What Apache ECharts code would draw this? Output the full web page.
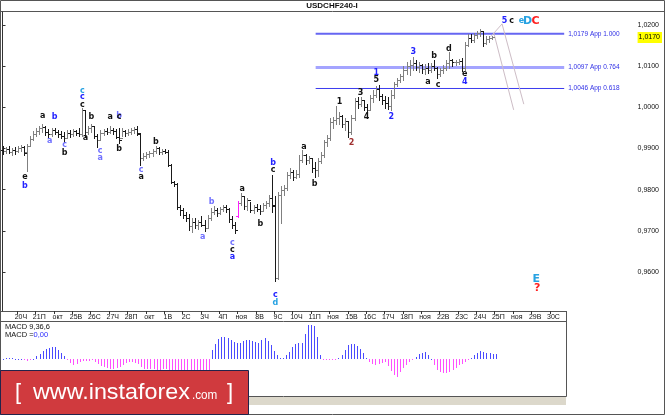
<!DOCTYPE html>
<html><head><meta charset="utf-8">
<script src="https://cdn.jsdelivr.net/npm/echarts@6/dist/echarts.min.js"></script>
<style>html,body{margin:0;padding:0;background:#fff}#c{width:665px;height:415px}</style>
</head><body><div id="c"></div>
<script>
const symbolName = 'USDCHF240-I';
const dayLabels = ['20Ч','21П','окт','25В','26С','27Ч','28П','окт','1В','2С','3Ч','4П','ноя','8В','9С','10Ч','11П','ноя','15В','16С','17Ч','18П','ноя','22В','23С','24Ч','25П','ноя','29В','30С'];
const barsPerDay = 6;
const priceTicks = [0.96, 0.97, 0.98, 0.99, 1.00, 1.01, 1.02];
const lastPrice = 1.0170;

const open = [
0.9896,0.9894,0.9899,0.9891,0.9896,0.9894,0.9901,0.9904,0.9891,0.9906,
0.9923,0.9935,0.9942,0.9950,0.9952,0.9940,0.9935,0.9945,0.9940,0.9935,
0.9930,0.9925,0.9938,0.9935,0.9942,0.9938,0.9935,0.9993,0.9940,0.9950,
0.9955,0.9930,0.9921,0.9938,0.9942,0.9940,0.9945,0.9942,0.9928,0.9925,
0.9942,0.9938,0.9940,0.9945,0.9947,0.9935,0.9877,0.9882,0.9887,0.9889,
0.9894,0.9901,0.9891,0.9894,0.9891,0.9860,0.9818,0.9814,0.9758,0.9750,
0.9738,0.9731,0.9712,0.9721,0.9714,0.9721,0.9714,0.9707,0.9731,0.9746,
0.9750,0.9743,0.9753,0.9758,0.9753,0.9729,0.9714,0.9736,0.9767,0.9784,
0.9760,0.9775,0.9750,0.9758,0.9753,0.9748,0.9763,0.9767,0.9780,0.9763,
0.9585,0.9787,0.9799,0.9804,0.9836,0.9843,0.9831,0.9838,0.9872,0.9884,
0.9872,0.9877,0.9853,0.9848,0.9870,0.9884,0.9916,0.9925,0.9964,0.9969,
0.9974,0.9979,0.9959,0.9967,0.9940,0.9974,1.0015,1.0008,1.0018,1.0001,
0.9993,1.0023,1.0030,1.0044,1.0027,1.0018,1.0010,1.0003,1.0030,1.0057,
1.0066,1.0076,1.0091,1.0100,1.0103,1.0108,1.0098,1.0103,1.0093,1.0096,
1.0091,1.0100,1.0096,1.0081,1.0091,1.0096,1.0108,1.0115,1.0110,1.0110,
1.0113,1.0096,1.0151,1.0168,1.0164,1.0176,1.0181,1.0185,1.0156,1.0166,
1.0168];
const high = [
0.9906,0.9904,0.9906,0.9901,0.9904,0.9906,0.9908,0.9906,0.9911,0.9930,
0.9942,0.9950,0.9955,0.9959,0.9955,0.9947,0.9950,0.9950,0.9945,0.9942,
0.9940,0.9945,0.9945,0.9947,0.9945,0.9950,0.9998,0.9993,0.9955,0.9959,
0.9955,0.9935,0.9945,0.9947,0.9950,0.9955,0.9950,0.9947,0.9950,0.9950,
0.9945,0.9947,0.9950,0.9952,0.9955,0.9938,0.9889,0.9891,0.9894,0.9899,
0.9906,0.9904,0.9899,0.9899,0.9896,0.9862,0.9821,0.9816,0.9763,0.9755,
0.9746,0.9741,0.9731,0.9731,0.9726,0.9736,0.9726,0.9738,0.9755,0.9760,
0.9755,0.9758,0.9763,0.9763,0.9755,0.9736,0.9721,0.9772,0.9792,0.9784,
0.9780,0.9770,0.9763,0.9765,0.9763,0.9767,0.9772,0.9787,0.9836,0.9784,
0.9794,0.9809,0.9811,0.9843,0.9853,0.9848,0.9848,0.9884,0.9896,0.9887,
0.9882,0.9877,0.9867,0.9877,0.9891,0.9921,0.9933,0.9974,0.9976,1.0003,
0.9989,0.9981,0.9974,0.9964,0.9981,1.0023,1.0025,1.0025,1.0015,1.0008,
1.0030,1.0042,1.0052,1.0054,1.0032,1.0027,1.0025,1.0042,1.0061,1.0071,
1.0081,1.0100,1.0110,1.0115,1.0122,1.0115,1.0110,1.0105,1.0105,1.0108,
1.0108,1.0115,1.0098,1.0096,1.0103,1.0115,1.0134,1.0117,1.0115,1.0117,
1.0120,1.0159,1.0178,1.0178,1.0181,1.0185,1.0190,1.0183,1.0173,1.0173,
1.0173];
const low = [
0.9887,0.9889,0.9889,0.9884,0.9887,0.9891,0.9894,0.9884,0.9845,0.9906,
0.9921,0.9930,0.9935,0.9940,0.9933,0.9925,0.9930,0.9935,0.9928,0.9925,
0.9916,0.9925,0.9928,0.9930,0.9933,0.9930,0.9930,0.9928,0.9935,0.9940,
0.9925,0.9904,0.9921,0.9933,0.9935,0.9938,0.9935,0.9925,0.9913,0.9930,
0.9930,0.9933,0.9935,0.9938,0.9933,0.9860,0.9872,0.9877,0.9879,0.9882,
0.9889,0.9887,0.9887,0.9889,0.9857,0.9816,0.9809,0.9753,0.9738,0.9731,
0.9724,0.9702,0.9697,0.9707,0.9704,0.9712,0.9699,0.9707,0.9726,0.9741,
0.9736,0.9741,0.9748,0.9746,0.9721,0.9707,0.9695,0.9733,0.9763,0.9753,
0.9750,0.9746,0.9743,0.9748,0.9741,0.9750,0.9755,0.9760,0.9746,0.9578,
0.9583,0.9719,0.9787,0.9799,0.9828,0.9823,0.9828,0.9831,0.9867,0.9862,
0.9865,0.9843,0.9831,0.9833,0.9865,0.9879,0.9906,0.9921,0.9950,0.9959,
0.9959,0.9952,0.9945,0.9928,0.9935,0.9969,0.9998,1.0003,0.9993,0.9984,
0.9993,1.0013,1.0025,1.0018,1.0008,0.9998,0.9996,0.9993,1.0023,1.0052,
1.0061,1.0066,1.0081,1.0079,1.0091,1.0091,1.0086,1.0083,1.0081,1.0083,
1.0086,1.0091,1.0071,1.0076,1.0083,1.0091,1.0096,1.0100,1.0103,1.0105,
1.0088,1.0091,1.0149,1.0159,1.0159,1.0168,1.0173,1.0149,1.0154,1.0159,
1.0166];
const close = [
0.9894,0.9899,0.9891,0.9896,0.9894,0.9901,0.9904,0.9889,0.9906,0.9923,
0.9935,0.9942,0.9950,0.9952,0.9940,0.9935,0.9945,0.9940,0.9935,0.9930,
0.9925,0.9938,0.9935,0.9942,0.9938,0.9935,0.9993,0.9940,0.9950,0.9955,
0.9930,0.9921,0.9938,0.9942,0.9940,0.9945,0.9942,0.9928,0.9921,0.9942,
0.9938,0.9940,0.9945,0.9947,0.9938,0.9877,0.9882,0.9887,0.9889,0.9894,
0.9901,0.9891,0.9894,0.9891,0.9860,0.9818,0.9814,0.9758,0.9750,0.9738,
0.9731,0.9712,0.9721,0.9714,0.9721,0.9714,0.9707,0.9731,0.9746,0.9750,
0.9743,0.9753,0.9758,0.9753,0.9729,0.9714,0.9702,0.9767,0.9784,0.9760,
0.9775,0.9750,0.9758,0.9753,0.9748,0.9763,0.9767,0.9780,0.9760,0.9585,
0.9787,0.9799,0.9804,0.9836,0.9843,0.9831,0.9838,0.9872,0.9884,0.9872,
0.9877,0.9853,0.9848,0.9870,0.9884,0.9916,0.9925,0.9964,0.9969,0.9974,
0.9979,0.9959,0.9967,0.9940,0.9974,1.0015,1.0008,1.0018,1.0001,0.9993,
1.0023,1.0030,1.0044,1.0027,1.0018,1.0010,1.0003,1.0030,1.0057,1.0066,
1.0076,1.0091,1.0100,1.0103,1.0108,1.0098,1.0103,1.0093,1.0096,1.0091,
1.0100,1.0096,1.0081,1.0091,1.0096,1.0108,1.0115,1.0110,1.0110,1.0113,
1.0096,1.0151,1.0168,1.0164,1.0176,1.0181,1.0185,1.0156,1.0166,1.0168,
1.0170];
const markedBar = 77;

// MACD(9,36,6) histogram, in units of 0.0001
const macdHist = [
0.5,1,1.5,1,0.5,0.5,0.5,-1,-2,-1,
0.5,3,5,8,10.5,11.5,12,12,9,6,
3,-1,-4,-6,-5,-3,-1.5,-2,-1.5,-1,
-3,-5,-7,-8,-9,-10,-10,-9,-8,-6,
-4,-3,-3,-4,-5,-8,-10,-10,-10,-10,
-11,-11,-10,-10,-11,-11,-12,-14,-15,-15,
-15,-15,-14,-14,-13,-13,-12,-11,9,15,
20,22,22,21,19,17,16,16,18,19,
19,18,17,16,19,21,18,14,8,4,
1,1,4,7,12,15,16,16,25,34,
34,33,22,4,-0.5,-1,-1,-1,-0.5,1,
4,9,14,15,15,13,10,6,1,-3,
-5,-6,-5,-4,-3,-7,-12,-16,-18,-13,
-9,-6,-3,-1,2,5,6,7,4,0.5,
-6,-11,-13,-14,-14,-13,-11,-9,-6,-5,
-3,-1,1,4,6,8,7.5,6,6,5.5,
5.5];

const fibLevels = [1.0179, 1.0097, 1.0046];
const fibRatios = ['1.000', '0.764', '0.618'];
const fibFromBar = 102.3;
const fibToBar = 183.5;

const projLines = [
  [[159.5, 1.0172], [163.2, 1.0203]],
  [[160.5, 1.0181], [167.0, 0.9994]],
  [[163.2, 1.0203], [170.3, 1.0008]]
];

const waveText   = ['e','b','a','a','b','c','b','c','c','c','a','b','c','a','a','b','c','b','c','a','b','a','b','c','c','a','a','b','b','c','c','d','a','b','1','2','3','4','1','5','2','3','a','b','c','d','e','4','5','c','e','D','C','E','?'];
const waveBar    = [7.3,7.3,13.1,15.4,17.0,20.3,20.3,26.1,26.1,26.1,27.1,29.0,31.9,31.9,35.2,38.1,38.1,38.1,45.3,45.3,50.1,65.4,68.3,75.1,75.1,75.1,78.3,84.2,88.4,88.4,89.1,89.1,98.5,102.0,110.1,114.0,117.0,118.9,122.1,122.1,127.0,134.2,139.0,141.0,142.3,145.8,151.0,151.0,164.0,166.3,169.5,171.5,174.1,174.4,174.7];
const wavePrice  = [0.9831,0.9809,0.9979,0.9918,0.9976,0.9909,0.9889,1.0040,1.0025,1.0006,0.9926,0.9978,0.9894,0.9877,0.9976,0.9979,0.9976,0.9899,0.9848,0.9831,0.9916,0.9685,0.9770,0.9670,0.9653,0.9636,0.9802,0.9717,0.9865,0.9848,0.9544,0.9525,0.9904,0.9814,1.0013,0.9913,1.0035,0.9977,1.0083,1.0066,0.9978,1.0134,1.0062,1.0125,1.0054,1.0142,1.0081,1.0062,1.0210,1.0210,1.0210,1.0210,1.0210,0.9583,0.9561];
const waveDegree = ['k','b','k','l','b','l','k','c','b','k','k','k','l','l','k','l','k','k','l','k','k','l','l','l','k','b','k','k','b','k','b','c','k','k','k','m','k','k','b','k','b','b','k','k','k','k','k','b','b','k','c','c','r','c','r'];

const DEG_COLOR = {k:'#111111', b:'#2323ff', l:'#7070ff', c:'#27a2e2', r:'#ff1f1f', m:'#a03030'};
const UP = '#808080', DOWN = '#1a1a1a';

const chart = echarts.init(document.getElementById('c'), null, {renderer:'canvas'});
const tickIdx = dayLabels.map((_, k) => (k + 1) * barsPerDay);
const FONT = '"Liberation Sans", Arial, sans-serif';

function renderOHLC(params, api) {
  const i = api.value(0);
  const o = api.coord([i, api.value(1)]);
  const c = api.coord([i, api.value(2)]);
  const l = api.coord([i, api.value(3)]);
  const h = api.coord([i, api.value(4)]);
  const X = Math.round(o[0]);
  const x = X + 0.5;
  const col = i === markedBar ? '#ff20ff' : (api.value(2) >= api.value(1) ? UP : DOWN);
  const yo = Math.round(o[1]) + 0.5, yc = Math.round(c[1]) + 0.5;
  return {type:'group', children:[
    {type:'line', shape:{x1:x, y1:Math.round(h[1]), x2:x, y2:Math.round(l[1]) + 1}, style:{stroke:col, lineWidth:1}},
    {type:'line', shape:{x1:X - 2, y1:yo, x2:X + 1, y2:yo}, style:{stroke:col, lineWidth:1}},
    {type:'line', shape:{x1:X, y1:yc, x2:X + 3, y2:yc}, style:{stroke:col, lineWidth:1}}
  ]};
}
function renderMacd(params, api) {
  const i = api.value(0), v = api.value(1);
  const p0 = api.coord([i, 0]), p1 = api.coord([i, v]);
  const X = Math.round(p0[0]);
  const y0 = Math.round(p0[1]), y1 = Math.round(p1[1]);
  return {type:'rect', shape:{x:X, y:Math.min(y0, y1), width:1, height:Math.max(1, Math.abs(y1 - y0))},
    style:{fill: v >= 0 ? '#4a4aff' : '#ff50ff'}};
}
function renderWave(params, api) {
  const p = api.coord([api.value(0), api.value(1)]);
  const k = params.dataIndex;
  const big = /[A-Z?]/.test(waveText[k]);
  return {type:'text', x:p[0], y:p[1], style:{text:waveText[k], fill:DEG_COLOR[waveDegree[k]],
    font: big ? 'bold 11px "DejaVu Sans", sans-serif' : 'bold 8px "DejaVu Sans", sans-serif',
    align:'center', verticalAlign:'middle'}};
}

const fibStyles = [{w:2, c:'#6666f2'}, {w:3, c:'#a4a4ff'}, {w:1, c:'#3c3cee'}];
const fibSeries = fibLevels.map((lv, k) => ({
  type:'line', xAxisIndex:0, yAxisIndex:0, silent:true, symbol:'none', z:1,
  data:[[fibFromBar, lv], [fibToBar, lv]],
  lineStyle:{color:fibStyles[k].c, width:fibStyles[k].w},
  endLabel:{show:true, distance:4, color:'#2f2fe6', fontSize:6.5, fontFamily:FONT,
    formatter: () => lv.toFixed(4).replace('.', ',') + ' App ' + fibRatios[k]}
}));
const projSeries = projLines.map(seg => ({
  type:'line', xAxisIndex:0, yAxisIndex:0, silent:true, symbol:'none', z:1,
  data:seg, lineStyle:{color:'#cdbdc6', width:1}
}));

chart.setOption({
  animation:false,
  backgroundColor:'#ffffff',
  grid:[
    {left:1, right:26, top:12, bottom:104},
    {left:1, right:26, top:322, bottom:19}
  ],
  xAxis:[
    {type:'value', gridIndex:0, min:-0.5, max:206.5,
      axisLine:{show:false}, splitLine:{show:false},
      axisTick:{show:true, customValues:tickIdx.map(v => v - 1.2), length:3, lineStyle:{color:'#333'}},
      axisLabel:{customValues:tickIdx, formatter:v => dayLabels[Math.round(v / barsPerDay) - 1] || '',
        fontSize:7, color:'#111', margin:3, fontFamily:FONT}},
    {type:'value', gridIndex:1, min:-0.5, max:206.5, show:false}
  ],
  yAxis:[
    {type:'value', gridIndex:0, position:'right', min:0.9505, max:1.0232,
      axisLine:{show:true, lineStyle:{color:'#333'}},
      axisTick:{show:true, customValues:priceTicks, length:3, lineStyle:{color:'#333'}},
      splitLine:{show:false},
      axisLabel:{customValues:priceTicks.concat([lastPrice]), margin:3, fontSize:7, color:'#111', fontFamily:FONT,
        formatter:v => Math.abs(v - lastPrice) < 1e-7 ? '{hl|' + v.toFixed(4).replace('.', ',') + '}' : v.toFixed(4).replace('.', ','),
        rich:{hl:{backgroundColor:'#ffff00', color:'#000', fontSize:7, fontFamily:FONT, padding:[2,2,2,1]}}}},
    {type:'value', gridIndex:1, min:-37, max:37, show:false}
  ],
  series:[
    ...fibSeries,
    ...projSeries,
    {type:'custom', name:'ohlc', xAxisIndex:0, yAxisIndex:0, z:3, silent:true,
      data:open.map((o, i) => [i, o, close[i], low[i], high[i]]), renderItem:renderOHLC},
    {type:'custom', name:'macd', xAxisIndex:1, yAxisIndex:1, z:3, silent:true,
      data:macdHist.map((v, i) => [i, v]), renderItem:renderMacd},
    {type:'custom', name:'waves', xAxisIndex:0, yAxisIndex:0, z:4, silent:true,
      data:waveBar.map((b, i) => [b, wavePrice[i]]), renderItem:renderWave}
  ],
  graphic:[
    {type:'rect', z:0, shape:{x:0.5, y:0.5, width:664, height:414}, style:{fill:null, stroke:'#555', lineWidth:1}},
    {type:'line', shape:{x1:0, y1:11.5, x2:665, y2:11.5}, style:{stroke:'#555', lineWidth:1}},
    {type:'text', x:332, y:6, style:{text:symbolName, font:'bold 8px ' + FONT, fill:'#111', align:'center', verticalAlign:'middle'}},
    {type:'line', shape:{x1:0, y1:311.5, x2:566, y2:311.5}, style:{stroke:'#555', lineWidth:1}},
    {type:'rect', shape:{x:0.5, y:321.5, width:566, height:75}, style:{fill:null, stroke:'#555', lineWidth:1}},
    {type:'line', shape:{x1:566.5, y1:311, x2:566.5, y2:322}, style:{stroke:'#555', lineWidth:1}},
    {type:'text', x:5, y:327, style:{text:'MACD 9,36,6', font:'7.5px ' + FONT, fill:'#111', verticalAlign:'middle'}},
    {type:'text', x:5, y:335, style:{text:'MACD ={v|0,00}', font:'7.5px ' + FONT, fill:'#111', verticalAlign:'middle',
      rich:{v:{fill:'#2d2dff', font:'7.5px ' + FONT}}}},
    {type:'rect', z:10, shape:{x:249, y:397, width:317, height:8}, style:{fill:'#dcd8cb', stroke:null}},
    {type:'rect', z:20, shape:{x:0.5, y:370.5, width:248, height:44}, style:{fill:'#d03a3e', stroke:'#23234a', lineWidth:1}},
    {type:'text', z:21, x:15, y:392.5, style:{text:'[', font:'22px ' + FONT, fill:'#ffffff', verticalAlign:'middle'}},
    {type:'text', z:21, x:33, y:392.5, scaleX:1.06, style:{text:'www.instaforex', font:'22px ' + FONT, fill:'#ffffff', verticalAlign:'middle'}},
    {type:'text', z:21, x:192, y:395, scaleX:0.9, style:{text:'.com', font:'13px ' + FONT, fill:'#ffffff', verticalAlign:'middle'}},
    {type:'text', z:21, x:227, y:392.5, style:{text:']', font:'22px ' + FONT, fill:'#ffffff', verticalAlign:'middle'}}
  ]
});
</script>
</body></html>
